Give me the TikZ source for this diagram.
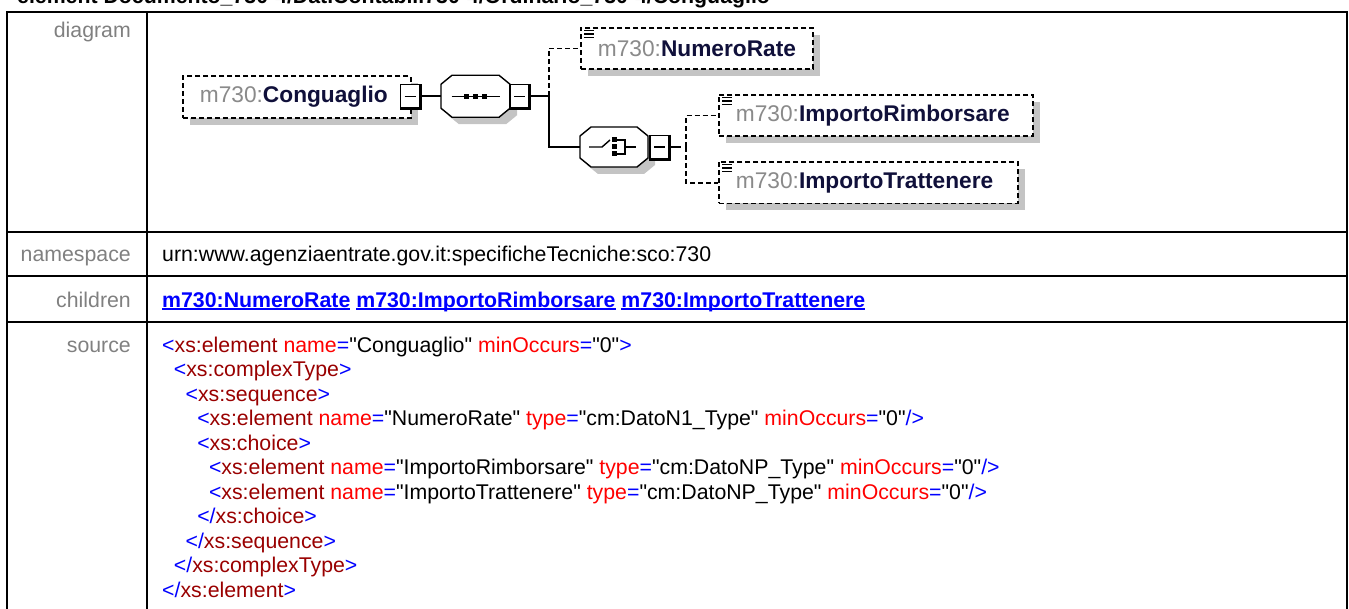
\documentclass[tikz,border=0pt]{standalone}
\usepackage{fontspec}
\setmainfont{Liberation Sans}[Ligatures=TeXOff]
\usepackage{tikz}
\usetikzlibrary{positioning,calc,shadows}

\definecolor{lblgray}{HTML}{808080}
\definecolor{pfxgray}{HTML}{8A8A8A}
\definecolor{namecol}{HTML}{10103A}
\definecolor{shadowgray}{HTML}{C4C4C4}
\definecolor{xmlblue}{HTML}{0000FF}
\definecolor{xmlname}{HTML}{990000}
\definecolor{xmlattr}{HTML}{FF0000}

\newcommand\tblfont{\fontsize{21.3bp}{25bp}\selectfont}
\newcommand\dgmfont{\fontsize{22.7bp}{26bp}\selectfont}
\newcommand\xo{\textcolor{xmlblue}{<}}
\newcommand\xc{\textcolor{xmlblue}{>}}
\newcommand\xe{\textcolor{xmlblue}{=}}
\newcommand\xoc{\textcolor{xmlblue}{</}}
\newcommand\xsc{\textcolor{xmlblue}{/>}}
\newcommand\xel[1]{\textcolor{xmlname}{#1}}
\newcommand\xat[1]{\textcolor{xmlattr}{#1}}
\newcommand\lnk[1]{\setbox0\hbox{#1}\rlap{\rule[-2.6bp]{\wd0}{1.4bp}}\box0\relax}
\newcommand\qn[1]{\textcolor{pfxgray}{m730:}\textbf{#1}}

\tikzset{
  tblline/.style={line width=2bp,black},
  lbl/.style={anchor=base east,inner sep=0,font=\tblfont,text=lblgray},
  val/.style={anchor=base west,inner sep=0,font=\tblfont,text=black},
  srcln/.style={val},
  elem/.style={draw,dash pattern=on 5bp off 3bp,line width=1.8bp,fill=white,
    minimum height=41.5bp,inner xsep=17bp,inner ysep=0,align=left,
    anchor=north west,font=\dgmfont,text=namecol,
    drop shadow={shadow xshift=7bp,shadow yshift=-7bp,fill=shadowgray,opacity=1}},
  comp/.style={rectangle,inner sep=0},
  octline/.style={draw,line width=1.4bp,fill=white},
  expander/.style={draw,fill=white,line width=1.4bp,minimum width=19bp,
    minimum height=23bp,inner sep=0,
    path picture={\draw[line width=1.4bp]
      ([xshift=4bp]path picture bounding box.west) --
      ([xshift=-4bp]path picture bounding box.east);}},
  conn/.style={line width=1.7bp,black},
  optl/.style={dash pattern=on 5bp off 3bp},
}

\begin{document}
\begin{tikzpicture}[x=1bp,y=-1bp]
  \useasboundingbox (0,0) rectangle (1349,609);
  % --- cut off heading and table frame ---
  \node[val,font=\tblfont\bfseries] (title) at (17,3.5)
    {element Documento\_730-4/DatiContabili730-4/Ordinario\_730-4/Conguaglio};
  \draw[tblline] (7,609) |- (1347,12) -- (1347,609);
  \draw[tblline] (147,12) -- (147,609);
  \foreach \y in {232,276,322} \draw[tblline] (7,\y) -- (1347,\y);

  % --- row labels ---
  \node[lbl] (l-diag) at (131,38) {diagram};
  \node[lbl] (l-ns) at (131,261) {namespace};
  \node[lbl] (l-kids) at (131,307) {children};
  \node[lbl] (l-src) at (131,352) {source};

  % --- diagram ---
  \node[elem,text width=194bp] (cong) at (182,75.5) {\qn{Conguaglio}};
  \node[elem,text width=198bp] (nr) at (580,27) {\qn{NumeroRate}};
  \node[elem,text width=280bp] (ir) at (718,94) {\qn{ImportoRimborsare}};
  \node[elem,text width=265bp] (it) at (718,161) {\qn{ImportoTrattenere}};
  \node[comp,minimum width=69bp,minimum height=42bp] (seq) at (475.5,96.25) {};
  \node[comp,minimum width=68bp,minimum height=40bp] (cho) at (614,147) {};
  % octagon compositors with their shadows
  \foreach \n/\w/\h in {seq/34.5/21,cho/34/20}{
    \begin{scope}[shift={(\n.center)}]
      \fill[shadowgray] (-\w+7,-\h+16) -- (-\w+18,-\h+7) -- (\w-4,-\h+7)
        -- (\w+7,-\h+16) -- (\w+7,\h-2) -- (\w-4,\h+7) -- (-\w+18,\h+7)
        -- (-\w+7,\h-2) -- cycle;
      \path[octline] (-\w,-\h+9) -- (-\w+11,-\h) -- (\w-11,-\h) -- (\w,-\h+9)
        -- (\w,\h-9) -- (\w-11,\h) -- (-\w+11,\h) -- (-\w,\h-9) -- cycle;
    \end{scope}}
  \node[expander] (cong-x) at (410,96.25) {};
  \node[expander] (seq-x) at (519.5,96.25) {};
  \node[expander] (cho-x) at (659.5,147) {};
  \foreach \n in {cong-x,seq-x,cho-x}
    \draw[line width=2.8bp] (\n.north east) -- (\n.south east) -- (\n.south west);
  \foreach \n in {nr,ir,it}
    \foreach \dy in {3.5,7,10.5}
      \draw[line width=1.2bp] ([shift={(4bp,-\dy bp)}]\n.north west) -- ++(10,0);

  % sequence symbol
  \begin{scope}[shift={(seq.center)}]
    \draw[line width=1.4bp] (-24,0) -- (24,0);
    \foreach \dx in {-9,0,9} \fill (\dx-2.6,-2.6) rectangle ++(5.2,5.2);
  \end{scope}
  % choice symbol
  \begin{scope}[shift={(cho.center)},line width=1.4bp]
    \draw (-25,0) -- (-12,0) -- (-4,-7);
    \foreach \dy in {-7,0,7} \fill (-2.5,\dy-2.5) rectangle ++(5,5);
    \draw (3,-7) -- (11,-7) -- (11,7) -- (3,7);
    \draw (11,0) -- (22,0);
  \end{scope}

  \coordinate (seqfork) at (549,96.25);
  \coordinate (chofork) at (686,147);
  \draw[conn] (cong-x.east) -- (seq.west);
  \draw[conn] (seq-x.east) -- (seqfork);
  \draw[conn,optl] (seqfork) |- (nr.west);
  \draw[conn] (seqfork) |- (cho.west);
  \draw[conn] (cho-x.east) -- ++(11,0);
  \draw[conn,optl] (chofork) |- (ir.west);
  \draw[conn,optl] (chofork) |- (it.west);

  % --- namespace and children ---
  \node[val] (v-ns) at (162,261)
    {urn:www.agenziaentrate.gov.it:specificheTecniche:sco:730};
  \node[val,font=\tblfont\bfseries,text=xmlblue] (v-kids) at (162,307)
    {\lnk{m730:NumeroRate} \lnk{m730:ImportoRimborsare} \lnk{m730:ImportoTrattenere}};

  % --- source ---
  \node[srcln] (src1) at (162,352)
    {\xo\xel{xs:element} \xat{name}\xe"Conguaglio" \xat{minOccurs}\xe"0"\xc};
  \node[srcln] (src2) at (173.7,376.5) {\xo\xel{xs:complexType}\xc};
  \node[srcln] (src3) at (185.4,401) {\xo\xel{xs:sequence}\xc};
  \node[srcln] (src4) at (197.1,425.5)
    {\xo\xel{xs:element} \xat{name}\xe"NumeroRate" \xat{type}\xe"cm:DatoN1\_Type" \xat{minOccurs}\xe"0"\xsc};
  \node[srcln] (src5) at (197.1,450) {\xo\xel{xs:choice}\xc};
  \node[srcln] (src6) at (208.8,474.5)
    {\xo\xel{xs:element} \xat{name}\xe"ImportoRimborsare" \xat{type}\xe"cm:DatoNP\_Type" \xat{minOccurs}\xe"0"\xsc};
  \node[srcln] (src7) at (208.8,499)
    {\xo\xel{xs:element} \xat{name}\xe"ImportoTrattenere" \xat{type}\xe"cm:DatoNP\_Type" \xat{minOccurs}\xe"0"\xsc};
  \node[srcln] (src8) at (197.1,523.5) {\xoc\xel{xs:choice}\xc};
  \node[srcln] (src9) at (185.4,548) {\xoc\xel{xs:sequence}\xc};
  \node[srcln] (src10) at (173.7,572.5) {\xoc\xel{xs:complexType}\xc};
  \node[srcln] (src11) at (162,597) {\xoc\xel{xs:element}\xc};
\end{tikzpicture}
\end{document}
